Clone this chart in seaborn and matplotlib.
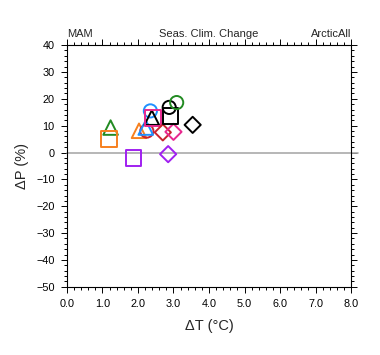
import numpy as np
import pandas as pd
import matplotlib
matplotlib.use("Agg")
import matplotlib.pyplot as plt
from matplotlib.ticker import MultipleLocator
import seaborn as sns

# data (Delta T in degC, Delta P in %)
dT = [1.23, 1.18, 1.88, 2.03, 2.25, 2.22, 2.35, 2.39, 2.43, 2.70, 3.00, 2.85, 2.88, 2.92, 3.09, 3.54]
dP = [9.3, 5.1, -2.1, 8.1, 8.0, 9.3, 15.5, 13.0, 12.8, 7.5, 7.7, -0.6, 16.8, 13.6, 18.6, 10.3]
colors = ["green", "orange", "purple", "orange", "red", "blue", "blue", "black",
          "magenta", "red", "magenta", "purple", "black", "black", "green", "black"]
shapes = ["^", "s", "s", "^", "o", "^", "o", "^", "s", "D", "D", "D", "o", "s", "o", "D"]

palette = {"green": "#228b22", "orange": "#f7801e", "purple": "#a020f0", "red": "#c8232f",
           "blue": "#1e90ff", "magenta": "#e8288f", "black": "black"}
sizes = {"^": 110, "s": 125, "o": 90, "D": 68}

df = pd.DataFrame({"dT": dT, "dP": dP, "color": colors, "shape": shapes})

sns.set_style("ticks")
plt.rcParams["font.family"] = ["Liberation Sans", "DejaVu Sans"]

fig = plt.figure(figsize=(3.8, 3.55), dpi=100)
ax = fig.add_axes([0.176, 0.192, 0.748, 0.681])

ax.axhline(0, xmin=0, xmax=1.025, color="#aaaaaa", lw=1.2, clip_on=False, zorder=1)

for (col, shp), grp in df.groupby(["color", "shape"], sort=False):
    sns.scatterplot(data=grp, x="dT", y="dP", marker=shp, s=sizes[shp],
                    facecolor="none", edgecolor=palette[col], linewidth=1.4,
                    ax=ax, zorder=3)

ax.set_xlim(0, 8)
ax.set_ylim(-50, 40)
ax.xaxis.set_major_locator(MultipleLocator(1))
ax.xaxis.set_minor_locator(MultipleLocator(0.2))
ax.yaxis.set_major_locator(MultipleLocator(10))
ax.yaxis.set_minor_locator(MultipleLocator(2))
ax.xaxis.set_major_formatter(plt.FuncFormatter(lambda v, p: f"{v:.1f}"))

for s in ax.spines.values():
    s.set_visible(True)
    s.set_linewidth(0.8)
    s.set_color("black")
ax.tick_params(which="both", direction="out", top=True, right=True, colors="black",
               width=0.7, labelsize=7.8, pad=4.5)
ax.tick_params(which="major", length=4.3)
ax.tick_params(which="minor", length=2.3)

ax.set_xlabel("\u0394T (\u00b0C)", fontsize=10.5, labelpad=7)
ax.set_ylabel("\u0394P (%)", fontsize=10.5, labelpad=5)

ax.set_title("MAM", loc="left", fontsize=8, pad=6)
ax.set_title("Seas. Clim. Change", loc="center", fontsize=8, pad=6)
ax.set_title("ArcticAll", loc="right", fontsize=8, pad=6)

fig.savefig("out.png", dpi=100)
